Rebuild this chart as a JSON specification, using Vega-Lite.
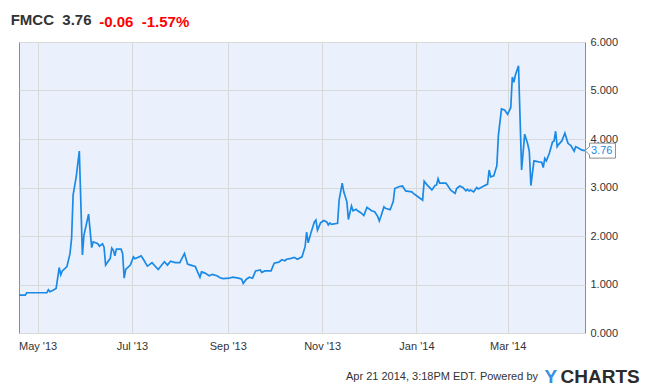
{
  "$schema": "https://vega.github.io/schema/vega-lite/v6.json",
  "width": 566,
  "height": 291,
  "autosize": {"type": "none"},
  "padding": {"left": 19, "top": 42, "right": 65, "bottom": 55},
  "background": "white",
  "title": {
    "text": "FMCC\u00a0\u00a03.76",
    "anchor": "start",
    "frame": "group",
    "orient": "top",
    "dx": -8.3,
    "offset": -26,
    "font": "Liberation Sans",
    "fontSize": 15,
    "fontWeight": "bold",
    "color": "#333333",
    "baseline": "alphabetic"
  },
  "config": {
    "font": "Liberation Sans",
    "view": {"fill": "#ebf1fc", "stroke": "#8c8c8c", "strokeWidth": 1}
  },
  "data": {
    "values": [
      {"date": "2013-04-19", "price": 0.78},
      {"date": "2013-04-23", "price": 0.78},
      {"date": "2013-04-24", "price": 0.83},
      {"date": "2013-05-07", "price": 0.83},
      {"date": "2013-05-08", "price": 0.89},
      {"date": "2013-05-09", "price": 0.85},
      {"date": "2013-05-11", "price": 0.88},
      {"date": "2013-05-13", "price": 0.92},
      {"date": "2013-05-15", "price": 1.35},
      {"date": "2013-05-16", "price": 1.20},
      {"date": "2013-05-17", "price": 1.28},
      {"date": "2013-05-20", "price": 1.37},
      {"date": "2013-05-22", "price": 1.64},
      {"date": "2013-05-23", "price": 1.95},
      {"date": "2013-05-24", "price": 2.85},
      {"date": "2013-05-26", "price": 3.22},
      {"date": "2013-05-28", "price": 3.75},
      {"date": "2013-05-30", "price": 1.61},
      {"date": "2013-05-31", "price": 2.02},
      {"date": "2013-06-03", "price": 2.45},
      {"date": "2013-06-05", "price": 1.76},
      {"date": "2013-06-06", "price": 1.88},
      {"date": "2013-06-09", "price": 1.84},
      {"date": "2013-06-10", "price": 1.79},
      {"date": "2013-06-12", "price": 1.84},
      {"date": "2013-06-13", "price": 1.77},
      {"date": "2013-06-14", "price": 1.40},
      {"date": "2013-06-17", "price": 1.54},
      {"date": "2013-06-18", "price": 1.75},
      {"date": "2013-06-19", "price": 1.71},
      {"date": "2013-06-20", "price": 1.59},
      {"date": "2013-06-21", "price": 1.73},
      {"date": "2013-06-24", "price": 1.73},
      {"date": "2013-06-25", "price": 1.64},
      {"date": "2013-06-26", "price": 1.13},
      {"date": "2013-06-27", "price": 1.31},
      {"date": "2013-06-30", "price": 1.40},
      {"date": "2013-07-02", "price": 1.57},
      {"date": "2013-07-03", "price": 1.53},
      {"date": "2013-07-07", "price": 1.59},
      {"date": "2013-07-09", "price": 1.49},
      {"date": "2013-07-11", "price": 1.38},
      {"date": "2013-07-12", "price": 1.40},
      {"date": "2013-07-14", "price": 1.45},
      {"date": "2013-07-18", "price": 1.31},
      {"date": "2013-07-22", "price": 1.47},
      {"date": "2013-07-24", "price": 1.40},
      {"date": "2013-07-26", "price": 1.48},
      {"date": "2013-07-29", "price": 1.45},
      {"date": "2013-08-01", "price": 1.45},
      {"date": "2013-08-04", "price": 1.64},
      {"date": "2013-08-06", "price": 1.42},
      {"date": "2013-08-08", "price": 1.40},
      {"date": "2013-08-11", "price": 1.37},
      {"date": "2013-08-14", "price": 1.15},
      {"date": "2013-08-15", "price": 1.26},
      {"date": "2013-08-17", "price": 1.24},
      {"date": "2013-08-20", "price": 1.18},
      {"date": "2013-08-22", "price": 1.21},
      {"date": "2013-08-25", "price": 1.18},
      {"date": "2013-08-27", "price": 1.14},
      {"date": "2013-08-29", "price": 1.12},
      {"date": "2013-09-02", "price": 1.13},
      {"date": "2013-09-04", "price": 1.15},
      {"date": "2013-09-08", "price": 1.13},
      {"date": "2013-09-10", "price": 1.11},
      {"date": "2013-09-11", "price": 1.02},
      {"date": "2013-09-13", "price": 1.11},
      {"date": "2013-09-15", "price": 1.15},
      {"date": "2013-09-17", "price": 1.13},
      {"date": "2013-09-19", "price": 1.28},
      {"date": "2013-09-22", "price": 1.30},
      {"date": "2013-09-23", "price": 1.25},
      {"date": "2013-09-25", "price": 1.28},
      {"date": "2013-09-29", "price": 1.28},
      {"date": "2013-10-01", "price": 1.44},
      {"date": "2013-10-04", "price": 1.46},
      {"date": "2013-10-06", "price": 1.51},
      {"date": "2013-10-08", "price": 1.49},
      {"date": "2013-10-09", "price": 1.52},
      {"date": "2013-10-12", "price": 1.54},
      {"date": "2013-10-14", "price": 1.56},
      {"date": "2013-10-16", "price": 1.52},
      {"date": "2013-10-19", "price": 1.57},
      {"date": "2013-10-21", "price": 1.78},
      {"date": "2013-10-22", "price": 2.08},
      {"date": "2013-10-23", "price": 1.86},
      {"date": "2013-10-25", "price": 2.09},
      {"date": "2013-10-27", "price": 2.29},
      {"date": "2013-10-28", "price": 2.33},
      {"date": "2013-10-29", "price": 2.12},
      {"date": "2013-10-31", "price": 2.27},
      {"date": "2013-11-02", "price": 2.32},
      {"date": "2013-11-04", "price": 2.29},
      {"date": "2013-11-05", "price": 2.23},
      {"date": "2013-11-06", "price": 2.27},
      {"date": "2013-11-07", "price": 2.24},
      {"date": "2013-11-11", "price": 2.26},
      {"date": "2013-11-12", "price": 2.74},
      {"date": "2013-11-14", "price": 3.09},
      {"date": "2013-11-15", "price": 2.91},
      {"date": "2013-11-17", "price": 2.71},
      {"date": "2013-11-18", "price": 2.34},
      {"date": "2013-11-20", "price": 2.62},
      {"date": "2013-11-21", "price": 2.52},
      {"date": "2013-11-23", "price": 2.55},
      {"date": "2013-11-24", "price": 2.52},
      {"date": "2013-11-26", "price": 2.48},
      {"date": "2013-11-28", "price": 2.42},
      {"date": "2013-11-30", "price": 2.59},
      {"date": "2013-12-03", "price": 2.52},
      {"date": "2013-12-05", "price": 2.50},
      {"date": "2013-12-07", "price": 2.40},
      {"date": "2013-12-08", "price": 2.31},
      {"date": "2013-12-09", "price": 2.40},
      {"date": "2013-12-11", "price": 2.60},
      {"date": "2013-12-12", "price": 2.57},
      {"date": "2013-12-15", "price": 2.54},
      {"date": "2013-12-17", "price": 2.71},
      {"date": "2013-12-18", "price": 2.98},
      {"date": "2013-12-21", "price": 3.02},
      {"date": "2013-12-23", "price": 3.03},
      {"date": "2013-12-25", "price": 2.93},
      {"date": "2013-12-29", "price": 2.91},
      {"date": "2013-12-30", "price": 2.88},
      {"date": "2014-01-02", "price": 2.81},
      {"date": "2014-01-05", "price": 2.74},
      {"date": "2014-01-06", "price": 3.13},
      {"date": "2014-01-08", "price": 3.05},
      {"date": "2014-01-11", "price": 2.95},
      {"date": "2014-01-13", "price": 3.04},
      {"date": "2014-01-14", "price": 3.05},
      {"date": "2014-01-15", "price": 3.18},
      {"date": "2014-01-16", "price": 3.09},
      {"date": "2014-01-20", "price": 3.09},
      {"date": "2014-01-21", "price": 3.05},
      {"date": "2014-01-23", "price": 2.95},
      {"date": "2014-01-26", "price": 2.88},
      {"date": "2014-01-27", "price": 2.98},
      {"date": "2014-01-29", "price": 3.03},
      {"date": "2014-01-31", "price": 3.00},
      {"date": "2014-02-02", "price": 2.93},
      {"date": "2014-02-03", "price": 2.96},
      {"date": "2014-02-04", "price": 2.93},
      {"date": "2014-02-05", "price": 2.95},
      {"date": "2014-02-07", "price": 2.91},
      {"date": "2014-02-09", "price": 3.00},
      {"date": "2014-02-10", "price": 2.97},
      {"date": "2014-02-13", "price": 3.02},
      {"date": "2014-02-16", "price": 3.07},
      {"date": "2014-02-17", "price": 3.36},
      {"date": "2014-02-18", "price": 3.22},
      {"date": "2014-02-20", "price": 3.24},
      {"date": "2014-02-22", "price": 3.45},
      {"date": "2014-02-23", "price": 4.08},
      {"date": "2014-02-25", "price": 4.62},
      {"date": "2014-02-27", "price": 4.60},
      {"date": "2014-03-01", "price": 4.51},
      {"date": "2014-03-03", "price": 4.65},
      {"date": "2014-03-04", "price": 5.28},
      {"date": "2014-03-05", "price": 5.17},
      {"date": "2014-03-06", "price": 5.32},
      {"date": "2014-03-08", "price": 5.51},
      {"date": "2014-03-10", "price": 3.36},
      {"date": "2014-03-12", "price": 4.10},
      {"date": "2014-03-14", "price": 3.89},
      {"date": "2014-03-15", "price": 3.74},
      {"date": "2014-03-16", "price": 3.04},
      {"date": "2014-03-18", "price": 3.55},
      {"date": "2014-03-21", "price": 3.53},
      {"date": "2014-03-23", "price": 3.52},
      {"date": "2014-03-24", "price": 3.41},
      {"date": "2014-03-25", "price": 3.60},
      {"date": "2014-03-26", "price": 3.55},
      {"date": "2014-03-28", "price": 3.71},
      {"date": "2014-03-30", "price": 3.94},
      {"date": "2014-03-31", "price": 3.96},
      {"date": "2014-04-01", "price": 4.16},
      {"date": "2014-04-02", "price": 3.84},
      {"date": "2014-04-03", "price": 3.89},
      {"date": "2014-04-05", "price": 3.96},
      {"date": "2014-04-07", "price": 4.12},
      {"date": "2014-04-09", "price": 3.91},
      {"date": "2014-04-11", "price": 3.86},
      {"date": "2014-04-13", "price": 3.75},
      {"date": "2014-04-14", "price": 3.84},
      {"date": "2014-04-16", "price": 3.81},
      {"date": "2014-04-18", "price": 3.77},
      {"date": "2014-04-20", "price": 3.76}
    ]
  },
  "layer": [
    {
      "mark": {"type": "line", "color": "#1a8ae6", "strokeWidth": 1.7},
      "encoding": {
        "x": {
          "field": "date",
          "type": "temporal",
          "scale": {
            "type": "utc",
            "nice": false,
            "domain": [
              {"year": 2013, "month": 4, "date": 19, "utc": true},
              {"year": 2014, "month": 4, "date": 20, "utc": true}
            ]
          },
          "axis": {
            "tickCount": {"interval": "month", "step": 2},
            "format": "%b '%y",
            "labelFont": "Liberation Sans",
            "labelFontSize": 11,
            "labelColor": "#333333",
            "labelPadding": 7,
            "labelFlush": false,
            "labelOverlap": false,
            "grid": true,
            "gridColor": "#d9d9d9",
            "ticks": false,
            "domain": false,
            "title": "Apr 21 2014, 3:18PM EDT. Powered by",
            "titleX": 518.5,
            "titleY": 46,
            "titleAlign": "right",
            "titleBaseline": "alphabetic",
            "titleFont": "Liberation Sans",
            "titleFontSize": 11,
            "titleFontWeight": "normal",
            "titleColor": "#333333"
          }
        },
        "y": {
          "field": "price",
          "type": "quantitative",
          "scale": {"domain": [0, 6], "nice": false},
          "axis": {
            "orient": "right",
            "values": [0, 1, 2, 3, 4, 5, 6],
            "format": ".3f",
            "labelFont": "Liberation Sans",
            "labelFontSize": 11,
            "labelColor": "#333333",
            "labelPadding": 5,
            "labelFlush": false,
            "labelOverlap": false,
            "grid": true,
            "gridColor": "#d9d9d9",
            "ticks": false,
            "domain": false,
            "title": "-0.06\u00a0\u00a0-1.57%",
            "titleAngle": 0,
            "titleX": -486.3,
            "titleY": -16,
            "titleAlign": "left",
            "titleBaseline": "alphabetic",
            "titleFont": "Liberation Sans",
            "titleFontSize": 15,
            "titleFontWeight": "bold",
            "titleColor": "#ff0000"
          }
        }
      }
    },
    {
      "transform": [{"filter": "datum.price === 3.76"}],
      "encoding": {
        "x": {
          "field": "date",
          "type": "temporal",
          "axis": {
            "orient": "top",
            "labels": false,
            "ticks": false,
            "domain": false,
            "grid": false,
            "title": "Y",
            "titleX": 525,
            "titleY": 340,
            "titleAlign": "left",
            "titleBaseline": "alphabetic",
            "titleFont": "Liberation Sans",
            "titleFontSize": 19,
            "titleFontWeight": "bold",
            "titleColor": "#3a8fe2"
          }
        },
        "y": {
          "field": "price",
          "type": "quantitative",
          "axis": {
            "orient": "left",
            "labels": false,
            "ticks": false,
            "domain": false,
            "grid": false,
            "title": "CHARTS",
            "titleAngle": 0,
            "titleX": 541,
            "titleY": 340,
            "titleAlign": "left",
            "titleBaseline": "alphabetic",
            "titleFont": "Liberation Sans",
            "titleFontSize": 19,
            "titleFontWeight": "bold",
            "titleColor": "#2b2b2b"
          }
        }
      },
      "layer": [
        {
          "mark": {
            "type": "point",
            "shape": "M0,0L0.3,-0.27L0.3,-0.5L2.03,-0.5L2.03,0.5L0.3,0.5L0.3,0.27Z",
            "size": 900,
            "filled": true,
            "fill": "white",
            "stroke": "#8c8c8c",
            "strokeWidth": 1,
            "opacity": 1
          }
        },
        {
          "mark": {
            "type": "text",
            "align": "left",
            "baseline": "middle",
            "dx": 6,
            "font": "Liberation Sans",
            "fontSize": 11,
            "color": "#1a8ae6"
          },
          "encoding": {"text": {"field": "price", "type": "quantitative", "format": ".2f"}}
        }
      ]
    }
  ],
  "resolve": {"axis": {"x": "independent", "y": "independent"}}
}
